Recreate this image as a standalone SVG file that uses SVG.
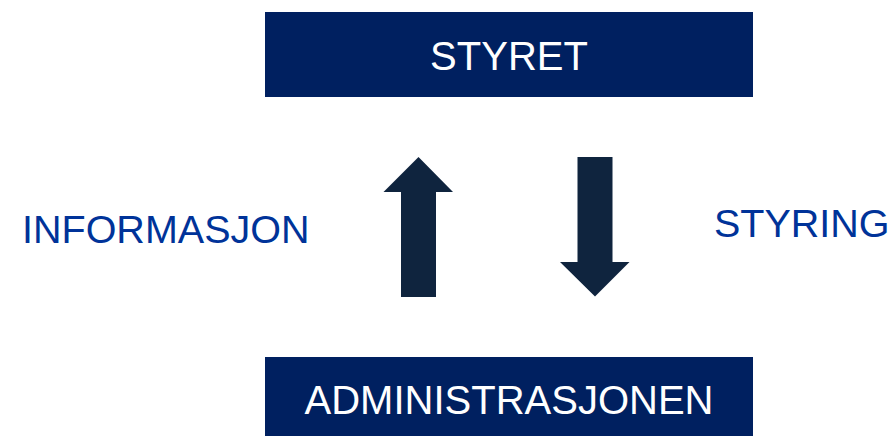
<svg xmlns="http://www.w3.org/2000/svg" width="894" height="436" viewBox="0 0 894 436">
  <style>
    .box { fill: #002060; }
    .box-label { fill: #ffffff; font-family: "Liberation Sans", Arial, sans-serif; font-size: 40px; text-anchor: middle; }
    .flow-label { fill: #003399; font-family: "Liberation Sans", Arial, sans-serif; font-size: 39.5px; }
    .arrow { fill: #0F243E; }
  </style>
  <rect width="894" height="436" fill="#ffffff"/>

  <g id="styret">
    <rect class="box" x="265" y="12" width="488" height="85"/>
    <text class="box-label" x="509" y="70">STYRET</text>
  </g>

  <g id="administrasjonen">
    <rect class="box" x="265" y="357" width="488" height="79"/>
    <text class="box-label" x="509" y="414">ADMINISTRASJONEN</text>
  </g>

  <g id="connectors">
    <!-- upward block arrow: information -->
    <polygon class="arrow" points="418.5,157 453,192 436,192 436,297 401,297 401,192 383.5,192"/>
    <!-- downward block arrow: control -->
    <polygon class="arrow" points="577.5,157 612.5,157 612.5,262 629.5,262 595,296.5 560,262 577.5,262"/>
  </g>

  <g id="label-informasjon">
    <text class="flow-label" x="22" y="243">INFORMASJON</text>
  </g>
  <g id="label-styring">
    <text class="flow-label" x="714" y="237">STYRING</text>
  </g>
</svg>
